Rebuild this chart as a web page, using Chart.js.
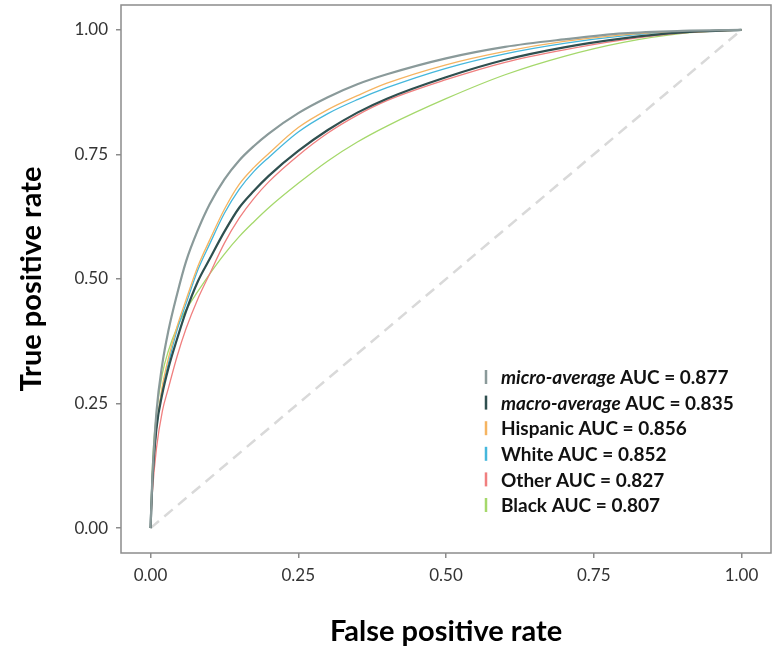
<!DOCTYPE html>
<html>
<head>
<meta charset="utf-8">
<script src="https://cdn.jsdelivr.net/npm/chart.js@4"></script>
<style>
  html, body { margin: 0; padding: 0; background: #fff; }
  #wrap { width: 777px; height: 656px; }
</style>
</head>
<body>
<div id="wrap"><canvas id="rocChart" width="777" height="656"></canvas></div>
<script>
// false positive rate grid shared by every curve
var fpr = [0, 0.003, 0.01, 0.02, 0.03, 0.045, 0.06, 0.08, 0.1, 0.125, 0.15, 0.175, 0.2, 0.25, 0.3, 0.35, 0.4, 0.5, 0.6, 0.7, 0.8, 0.9, 1];

// true positive rate
var tprMicro    = [0, 0.10, 0.233, 0.33, 0.395, 0.47, 0.535, 0.598, 0.65, 0.70, 0.738, 0.767, 0.792, 0.833, 0.865, 0.891, 0.911, 0.943, 0.966, 0.981, 0.993, 0.998, 1];
var tprMacro    = [0, 0.09, 0.20, 0.27, 0.32, 0.38, 0.435, 0.495, 0.54, 0.595, 0.643, 0.677, 0.707, 0.757, 0.799, 0.834, 0.862, 0.905, 0.94, 0.965, 0.983, 0.995, 1];
var tprHispanic = [0, 0.09, 0.20, 0.285, 0.34, 0.405, 0.458, 0.525, 0.578, 0.64, 0.69, 0.724, 0.752, 0.804, 0.84, 0.868, 0.893, 0.93, 0.957, 0.977, 0.99, 0.997, 1];
var tprWhite    = [0, 0.09, 0.20, 0.28, 0.33, 0.398, 0.45, 0.518, 0.57, 0.632, 0.68, 0.716, 0.744, 0.795, 0.832, 0.86, 0.884, 0.923, 0.952, 0.973, 0.988, 0.997, 1];
var tprOther    = [0, 0.07, 0.16, 0.235, 0.28, 0.345, 0.4, 0.46, 0.51, 0.572, 0.622, 0.662, 0.695, 0.748, 0.793, 0.829, 0.858, 0.90, 0.935, 0.96, 0.98, 0.994, 1];
var tprBlack    = [0, 0.12, 0.23, 0.31, 0.355, 0.403, 0.438, 0.475, 0.51, 0.55, 0.585, 0.615, 0.643, 0.692, 0.737, 0.775, 0.807, 0.862, 0.91, 0.947, 0.975, 0.993, 1];

var chanceX = [0, 1];
var chanceY = [0, 1];

var tickValues = [0, 0.25, 0.5, 0.75, 1];

var legendItems = [
    {italic: 'micro-average', rest: ' AUC = 0.877', color: '#8a9a9a'},
    {italic: 'macro-average', rest: ' AUC = 0.835', color: '#2f4f4f'},
    {italic: '', rest: 'Hispanic AUC = 0.856', color: '#f5b461'},
    {italic: '', rest: 'White AUC = 0.852', color: '#45b7dc'},
    {italic: '', rest: 'Other AUC = 0.827', color: '#f07f7f'},
    {italic: '', rest: 'Black AUC = 0.807', color: '#a5d86b'}
];

var FONT = 'Lato, "Open Sans", sans-serif';

function toPoints(xs, ys){
    var out = [];
    for (var i = 0; i < xs.length; i++) {
        out.push({x: xs[i], y: ys[i]});
    }
    return out;
}

function curve(values, color, width){
    return {
        data: toPoints(fpr, values),
        borderColor: color,
        borderWidth: width,
        pointRadius: 0,
        fill: false,
        cubicInterpolationMode: 'monotone'
    };
}

var panelBox = {
    id: 'panelBox',
    afterDraw: function(chart){
        var a = chart.chartArea;
        var ctx = chart.ctx;
        ctx.save();
        ctx.strokeStyle = '#8c8c8c';
        ctx.lineWidth = 1.5;
        ctx.strokeRect(a.left, a.top, a.right - a.left, a.bottom - a.top);
        ctx.restore();
    }
};

var rocLegend = {
    id: 'rocLegend',
    afterDatasetsDraw: function(chart){
        var ctx = chart.ctx;
        var keyX = 486, textX = 501, rowY = 377, rowGap = 25.6;
        ctx.save();
        ctx.textBaseline = 'middle';
        for (var i = 0; i < legendItems.length; i++) {
            var it = legendItems[i];
            var y = rowY + i * rowGap;
            ctx.strokeStyle = it.color;
            ctx.lineWidth = 2.5;
            ctx.beginPath();
            ctx.moveTo(keyX, y - 7);
            ctx.lineTo(keyX, y + 7);
            ctx.stroke();
            ctx.fillStyle = '#111';
            var x = textX;
            if (it.italic) {
                ctx.font = 'italic bold 19px ' + FONT;
                ctx.fillText(it.italic, x, y + 1);
                x += ctx.measureText(it.italic).width;
            }
            ctx.font = 'bold 19px ' + FONT;
            ctx.fillText(it.rest, x, y + 1);
        }
        ctx.restore();
    }
};

var ctx = document.getElementById('rocChart').getContext('2d');
var chart = new Chart(ctx, {
    type: 'line',
    data: {
        datasets: [
            curve(tprMicro, '#8a9a9a', 2.2),
            curve(tprMacro, '#2f4f4f', 2.2),
            curve(tprHispanic, '#f5b461', 1.3),
            curve(tprWhite, '#45b7dc', 1.3),
            curve(tprOther, '#f07f7f', 1.3),
            curve(tprBlack, '#a5d86b', 1.3),
            {
                data: toPoints(chanceX, chanceY),
                borderColor: '#d9d9d9',
                borderWidth: 2.5,
                borderDash: [11, 7],
                pointRadius: 0,
                fill: false
            }
        ]
    },
    options: {
        responsive: false,
        animation: false,
        events: [],
        layout: { padding: { top: 5, right: 6, left: 0, bottom: 0 } },
        plugins: { legend: { display: false }, tooltip: { enabled: false } },
        scales: {
            x: {
                type: 'linear',
                min: -0.05,
                max: 1.05,
                afterFit: function(scale){
                    scale.height = 103;
                    scale.paddingLeft = 0;
                    scale.paddingRight = 0;
                },
                afterBuildTicks: function(scale){
                    scale.ticks = tickValues.map(function(v){ return {value: v}; });
                },
                border: { display: false },
                grid: { drawOnChartArea: false, drawTicks: true, tickLength: 5, color: '#8c8c8c', lineWidth: 1.5 },
                ticks: {
                    padding: 7,
                    color: '#333',
                    font: { family: FONT, size: 17 },
                    maxRotation: 0,
                    callback: function(v){ return Number(v).toFixed(2); }
                },
                title: {
                    display: true,
                    text: 'False positive rate',
                    color: '#000',
                    font: { family: FONT, size: 29, weight: 'bold' },
                    padding: { top: 0, bottom: 7 }
                }
            },
            y: {
                type: 'linear',
                min: -0.05,
                max: 1.05,
                afterFit: function(scale){
                    scale.width = 121;
                    scale.paddingTop = 0;
                    scale.paddingBottom = 0;
                },
                afterBuildTicks: function(scale){
                    scale.ticks = tickValues.map(function(v){ return {value: v}; });
                },
                border: { display: false },
                grid: { drawOnChartArea: false, drawTicks: true, tickLength: 5, color: '#8c8c8c', lineWidth: 1.5 },
                ticks: {
                    padding: 8,
                    color: '#333',
                    font: { family: FONT, size: 17 },
                    callback: function(v){ return Number(v).toFixed(2); }
                },
                title: {
                    display: true,
                    text: 'True positive rate',
                    color: '#000',
                    font: { family: FONT, size: 29, weight: 'bold' },
                    padding: { top: 14, bottom: 0 }
                }
            }
        }
    },
    plugins: [panelBox, rocLegend]
});
</script>
</body>
</html>
